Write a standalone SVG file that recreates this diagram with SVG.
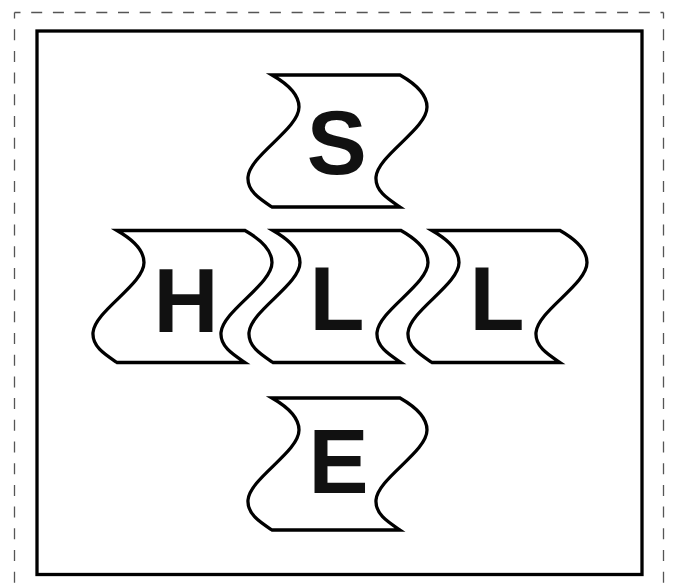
<svg xmlns="http://www.w3.org/2000/svg" width="673" height="586" viewBox="0 0 673 586">
  <style>
    .tile { fill: #fff; stroke: #000; stroke-width: 3.3; stroke-linejoin: miter; }
    .lbl { font-family: "Liberation Sans", Arial, sans-serif; font-weight: bold; font-size: 90px; fill: #111; }
    .dash { fill: none; stroke: #555; stroke-width: 1.3; stroke-dasharray: 11 10.7; stroke-dashoffset: 5; }
    .frame { fill: #fff; stroke: #000; stroke-width: 3.3; }
  </style>
  <defs>
    <path id="wave" d="M0 0 H128 C142 8 155 18 155 32 C155 54 106 80 104 102 C103 116 116 124 128 132 H0 C-12 124 -25 116 -24 102 C-22 80 27 54 27 32 C27 18 14 8 0 0 Z"/>
  </defs>
  <rect width="673" height="586" fill="#fff"/>
  <g id="outer-dashed">
    <path class="dash" d="M14.5 12.5 H663.5"/>
    <path class="dash" d="M14.5 12.5 V600"/>
    <path class="dash" d="M663.5 12.5 V600"/>
  </g>
  <g id="frame">
    <rect class="frame" x="37" y="31" width="605" height="543.5"/>
  </g>
  <g id="connectors"></g>
  <g id="node-S">
    <use href="#wave" class="tile" transform="translate(272,75)"/>
    <text class="lbl" x="306.7" y="174">S</text>
  </g>
  <g id="node-H">
    <use href="#wave" class="tile" transform="translate(117,230.5)"/>
    <text class="lbl" x="153.4" y="331.7">H</text>
  </g>
  <g id="node-L1">
    <use href="#wave" class="tile" transform="translate(273,230.5)"/>
    <text class="lbl" x="309.4" y="330.3">L</text>
  </g>
  <g id="node-L2">
    <use href="#wave" class="tile" transform="translate(432,230.5)"/>
    <text class="lbl" x="469.4" y="330.3">L</text>
  </g>
  <g id="node-E">
    <use href="#wave" class="tile" transform="translate(272,398)"/>
    <text class="lbl" x="308.4" y="493.3">E</text>
  </g>
</svg>
